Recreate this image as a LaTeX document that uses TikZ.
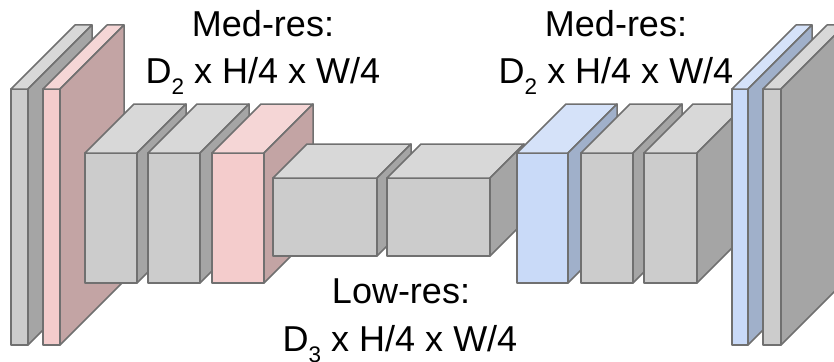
\documentclass[tikz,border=0pt]{standalone}
\usepackage{fontspec}
\setmainfont{Liberation Sans}
\definecolor{edge}{HTML}{707070}
\definecolor{gF}{HTML}{CCCCCC}
\definecolor{gT}{HTML}{D8D8D8}
\definecolor{gS}{HTML}{A5A5A5}
\definecolor{pF}{HTML}{F4CCCC}
\definecolor{pT}{HTML}{F5D6D6}
\definecolor{pS}{HTML}{C3A4A4}
\definecolor{bF}{HTML}{C9DAF8}
\definecolor{bT}{HTML}{D5E2F9}
\definecolor{bS}{HTML}{A0B0CA}
\newcommand\cub[8]{%
  \filldraw[fill=#6] (#1,#3) rectangle (#2,#4);
  \filldraw[fill=#7] (#1,#3) -- ++(#5,-#5) -- ($(#2,#3)+(#5,-#5)$) -- (#2,#3) -- cycle;
  \filldraw[fill=#8] (#2,#3) -- ++(#5,-#5) -- ($(#2,#4)+(#5,-#5)$) -- (#2,#4) -- cycle;
}
\newcommand\sbs[1]{\raisebox{-0.33em}{\fontsize{22.5}{22.5}\selectfont #1}}
\usetikzlibrary{calc}
\tikzset{lbl/.style={font=\fontsize{36}{40}\selectfont, anchor=base, inner sep=0pt}}
\begin{document}
\begin{tikzpicture}[x=1pt,y=-1pt,draw=edge,line width=1.5pt,line join=round]
\useasboundingbox (0,0) rectangle (834,361);
\clip (0,0) rectangle (834,361);
\cub{11}{28}{89}{345}{64}{gF}{gT}{gS}
\cub{43}{60}{89}{345}{64}{pF}{pT}{pS}
\cub{85}{137}{153}{283}{49}{gF}{gT}{gS}
\cub{148}{200}{153}{283}{49}{gF}{gT}{gS}
\cub{212}{264}{153}{283}{49}{pF}{pT}{pS}
\cub{273}{377}{178}{256}{34}{gF}{gT}{gS}
\cub{387}{490}{178}{256}{34}{gF}{gT}{gS}
\cub{517}{568}{153}{283}{49}{bF}{bT}{bS}
\cub{581}{633}{153}{283}{49}{gF}{gT}{gS}
\cub{644}{697}{153}{283}{49}{gF}{gT}{gS}
\cub{732}{748}{89}{345}{64}{bF}{bT}{bS}
\cub{763}{781}{89}{345}{64}{gF}{gT}{gS}
\node[lbl] (tl1) at (263,37) {Med-res:};
\node[lbl] (tl2) at (263,83) {D\sbs{2} x H/4 x W/4};
\node[lbl] (tr1) at (616,37) {Med-res:};
\node[lbl] (tr2) at (616,83) {D\sbs{2} x H/4 x W/4};
\node[lbl] (tb1) at (401,303) {Low-res:};
\node[lbl] (tb2) at (400,351) {D\sbs{3} x H/4 x W/4};
\end{tikzpicture}
\end{document}
